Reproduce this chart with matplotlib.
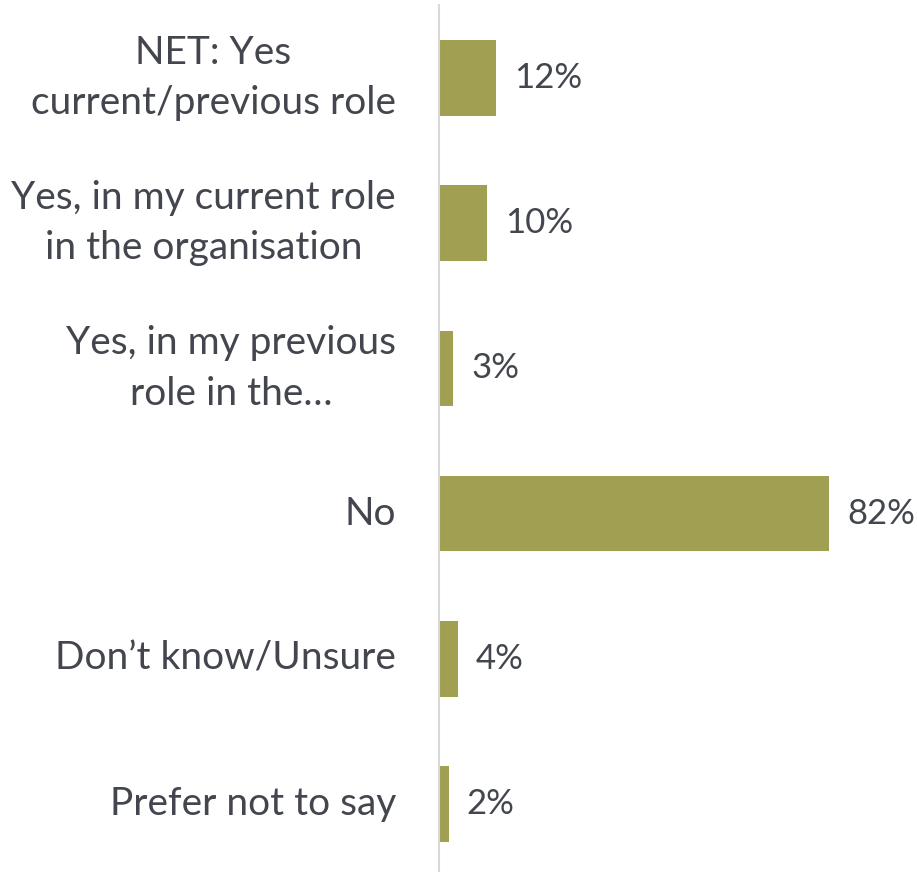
import matplotlib.pyplot as plt

plt.rcParams['font.family'] = ['Lato', 'DejaVu Sans']

categories = ["NET: Yes\ncurrent/previous role",
              "Yes, in my current role\nin the organisation",
              "Yes, in my previous\nrole in the\u2026",
              "No",
              "Don\u2019t know/Unsure",
              "Prefer not to say"]
values = [12, 10, 3, 82, 4, 2]

bar_color = '#A09F52'
text_color = '#43464E'

fig = plt.figure(figsize=(9.17, 8.72), dpi=100)
ax = fig.add_axes([439 / 917, -4.6 / 872, 478 / 917, 871.2 / 872])

pos = list(range(len(categories)))
ax.barh(pos, values, height=0.52, color=bar_color)
for p, v in zip(pos, values):
    ax.text(v + 3.8, p, f"{v}%", va='center', ha='left', fontsize=25, color=text_color)

ax.set_ylim(len(categories) - 0.5, -0.5)
ax.set_xlim(0, 100.5)
ax.set_yticks(pos)
ax.set_yticklabels(categories, fontsize=28, color=text_color, ha='right', va='center',
                   multialignment='center', linespacing=1.5)
ax.tick_params(axis='y', length=0, pad=31)
ax.set_xticks([])

for s in ['top', 'right', 'bottom']:
    ax.spines[s].set_visible(False)
ax.spines['left'].set_color('#D9D9D9')
ax.spines['left'].set_linewidth(1.5)

fig.savefig('out.png', dpi=100)
